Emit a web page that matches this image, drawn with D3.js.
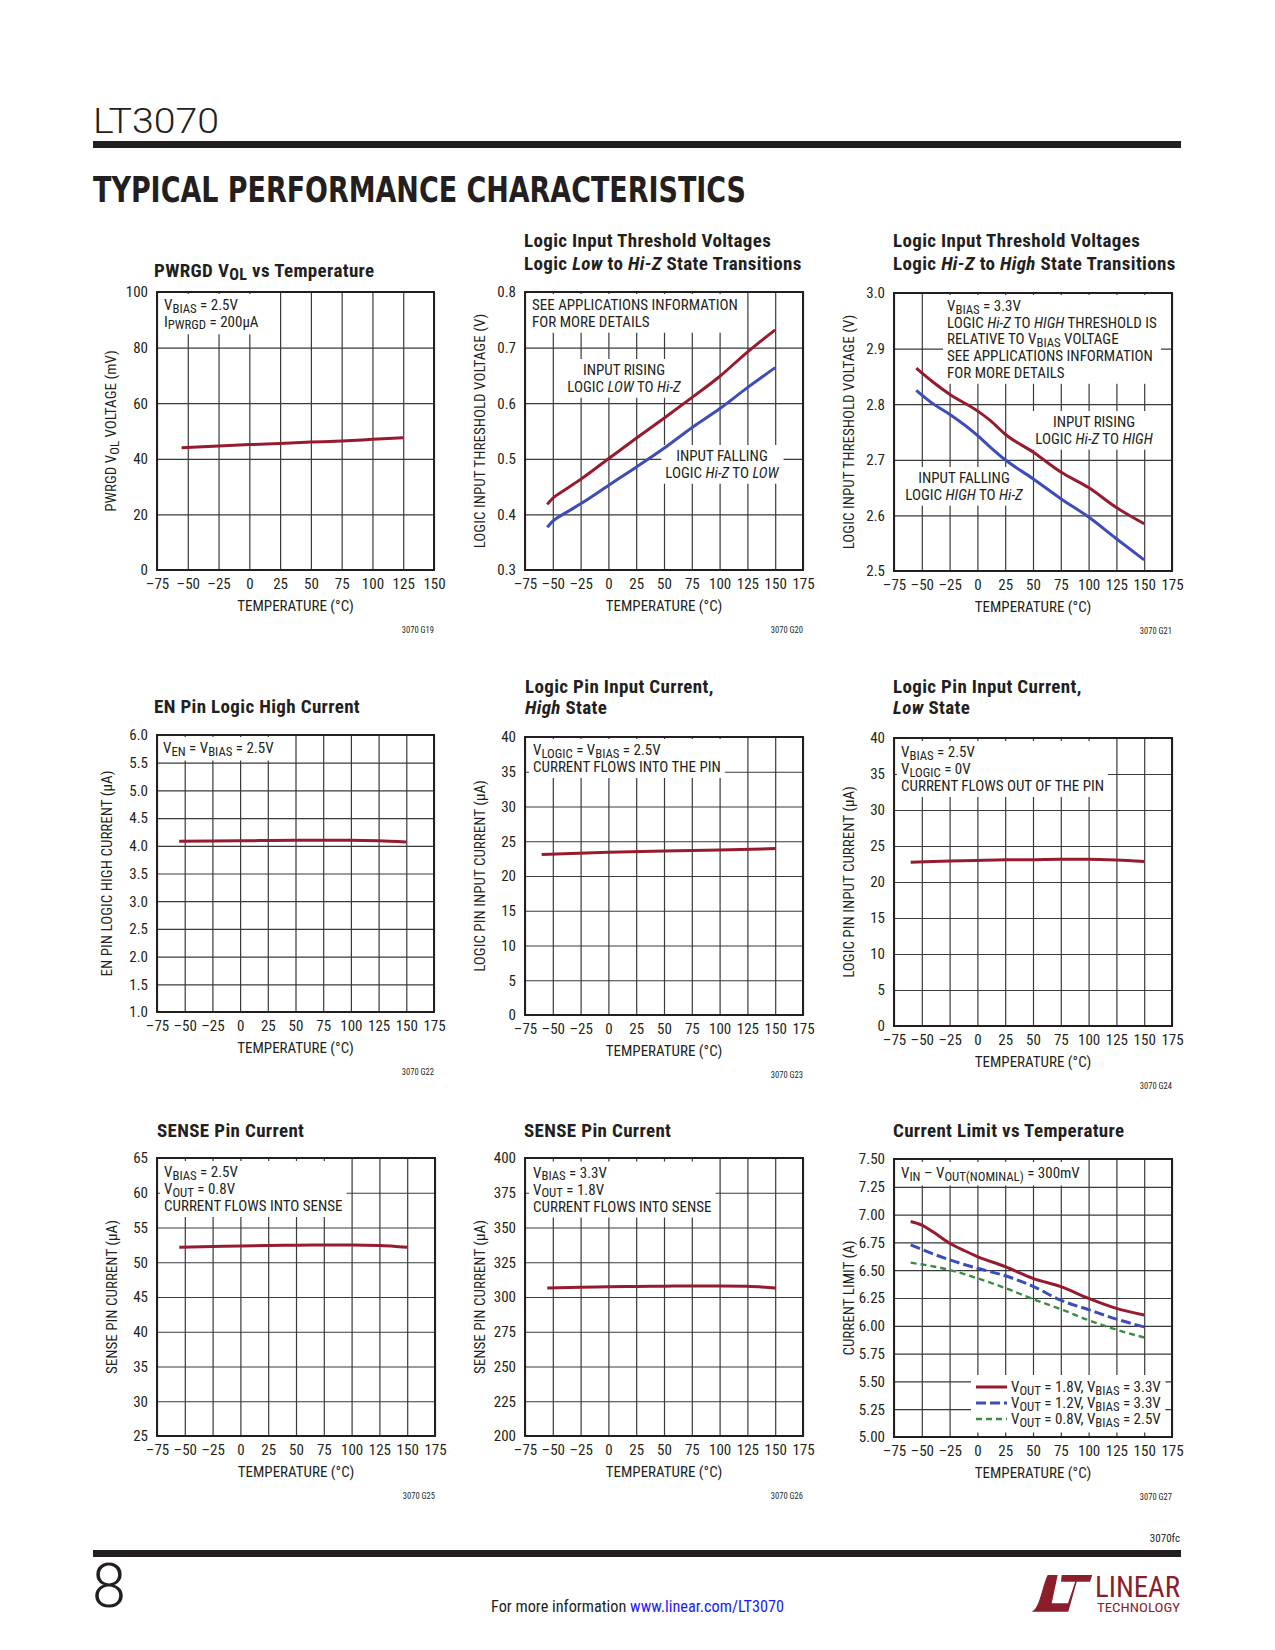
<!DOCTYPE html>
<html><head><meta charset="utf-8">
<script src="https://cdn.jsdelivr.net/npm/d3@7"></script>
<style>
body{margin:0;background:#fff}
svg{display:block}
text{white-space:pre}
</style></head><body>
<svg id="page" width="1275" height="1650"></svg>
<script>
// ================= DATA =================
const xTicksG19 = [-75,-50,-25,0,25,50,75,100,125,150];
const xTicksWide = [-75,-50,-25,0,25,50,75,100,125,150,175];

const g19Temp = [-55,-25,0,25,50,75,100,125];
const g19Vol  = [44.0,44.6,45.1,45.5,46.0,46.4,47.0,47.6];
const g19YTicks = [0,20,40,60,80,100];

const g20Temp    = [-55,-50,-40,-25,0,25,50,75,100,125,150];
const g20Rising  = [0.418,0.429,0.443,0.463,0.500,0.537,0.573,0.610,0.648,0.692,0.732];
const g20Falling = [0.377,0.388,0.401,0.419,0.452,0.485,0.519,0.556,0.590,0.628,0.664];
const g20YTicks  = [0.3,0.4,0.5,0.6,0.7,0.8];

const g21Temp    = [-55,-40,-25,0,12,25,50,75,100,125,150];
const g21Rising  = [2.865,2.840,2.818,2.788,2.770,2.746,2.714,2.678,2.650,2.614,2.585];
const g21Falling = [2.825,2.801,2.782,2.744,2.722,2.700,2.666,2.630,2.597,2.558,2.520];
const g21YTicks  = [2.5,2.6,2.7,2.8,2.9,3.0];

const g22Temp    = [-55,0,50,100,125,150];
const g22Current = [4.08,4.09,4.10,4.10,4.09,4.07];
const g22YTicks  = [1.0,1.5,2.0,2.5,3.0,3.5,4.0,4.5,5.0,5.5,6.0];

const g23Temp    = [-60,0,50,100,150];
const g23Current = [23.1,23.4,23.6,23.75,23.95];
const g23YTicks  = [0,5,10,15,20,25,30,35,40];

const g24Temp    = [-60,-25,0,25,50,75,100,125,150];
const g24Current = [22.75,22.9,23.0,23.08,23.1,23.15,23.15,23.05,22.85];
const g24YTicks  = [0,5,10,15,20,25,30,35,40];

const g25Temp    = [-55,-25,0,25,50,75,100,125,150];
const g25Current = [52.15,52.25,52.35,52.42,52.45,52.47,52.47,52.42,52.15];
const g25YTicks  = [25,30,35,40,45,50,55,60,65];

const g26Temp    = [-55,-25,0,25,50,75,100,125,150];
const g26Current = [306.5,307.0,307.3,307.6,307.8,308.0,308.0,307.7,306.4];
const g26YTicks  = [200,225,250,275,300,325,350,375,400];

const g27TempA   = [-60,-50,-40,-25,-12,0,25,50,75,100,125,150];
const g27Vout18  = [6.938,6.905,6.845,6.743,6.677,6.623,6.532,6.427,6.352,6.247,6.157,6.097];
const g27TempB   = [-60,-25,0,25,50,75,100,125,150];
const g27Vout12  = [6.728,6.593,6.517,6.450,6.355,6.230,6.145,6.060,5.990];
const g27Vout08  = [6.568,6.502,6.427,6.340,6.240,6.150,6.050,5.965,5.895];
const g27YTicks  = [5.00,5.25,5.50,5.75,6.00,6.25,6.50,6.75,7.00,7.25,7.50];

// ================= STYLE =================
const FONT = "'Liberation Sans Narrow','Arial Narrow','Roboto Condensed','DejaVu Sans Condensed',sans-serif";
const INK = '#231f20', GRID = '#3a3a3a';
const RED = '#961b2f', BLUE = '#3d4db7', GREEN = '#3a8d3f';
const fmtT = d => d < 0 ? '\u2013' + Math.abs(d) : String(d);
const TEMP_LABEL = 'TEMPERATURE (°C)';

const svg = d3.select('#page');

function addRich(textSel, str) {
  const parts = str.split(/(_\{[^}]*\}|\*[^*]*\*)/).filter(s => s.length);
  let shift = 0;
  parts.forEach(p => {
    const ts = textSel.append('tspan');
    if (p.startsWith('_{')) {
      ts.text(p.slice(2, -1)).attr('font-size', '0.85em').attr('dy', 2.5 - shift);
      shift = 2.5;
    } else {
      if (p.startsWith('*')) ts.text(p.slice(1, -1)).attr('font-style', 'italic');
      else ts.text(p);
      if (shift) { ts.attr('dy', -shift); shift = 0; }
    }
  });
  return textSel;
}

function drawChart(c) {
  const g = svg.append('g');
  const x = d3.scaleLinear().domain(c.xDomain).range([c.x, c.x + c.w]);
  const y = d3.scaleLinear().domain(c.yDomain).range([c.y + c.h, c.y]);

  const xa = g.append('g').attr('transform', `translate(0,${c.y + c.h})`)
    .call(d3.axisBottom(x).tickValues(c.xTicks).tickSize(-c.h).tickPadding(8.5).tickFormat(fmtT));
  const ya = g.append('g').attr('transform', `translate(${c.x},0)`)
    .call(d3.axisLeft(y).tickValues(c.yTicks).tickSize(-c.w).tickPadding(9).tickFormat(c.yFmt));
  [xa, ya].forEach(a => {
    a.select('.domain').remove();
    a.selectAll('line').attr('stroke', GRID).attr('stroke-width', 1.2);
    a.selectAll('text').attr('fill', INK).attr('font-size', 15).attr('font-family', FONT);
  });

  // title
  c.title.forEach((t, i) => {
    addRich(g.append('text').attr('x', c.titleX).attr('y', c.titleY[i])
      .attr('font-family', FONT).attr('font-weight', 'bold').attr('font-size', 19)
      .attr('letter-spacing', 0.35).attr('fill', INK), t);
  });

  // annotations with white boxes
  (c.notes || []).forEach(n => {
    const ng = g.append('g');
    n.lines.forEach((ln, i) => {
      addRich(ng.append('text').attr('x', n.x).attr('y', n.y + i * n.dy)
        .attr('text-anchor', n.anchor || 'start')
        .attr('font-family', FONT).attr('font-size', 15).attr('fill', INK), ln);
    });
    const bb = ng.node().getBBox();
    ng.insert('rect', ':first-child')
      .attr('x', bb.x - 4).attr('y', bb.y - 2).attr('width', bb.width + 8).attr('height', bb.height + 4)
      .attr('fill', '#fff');
  });

  // legend
  if (c.legend) {
    const L = c.legend;
    const lg = g.append('g');
    c.series.forEach((s, i) => {
      lg.append('line').attr('x1', L.x1).attr('x2', L.x2)
        .attr('y1', L.y + i * L.dy - 5).attr('y2', L.y + i * L.dy - 5)
        .attr('stroke', s.color).attr('stroke-width', s.width || 3)
        .attr('stroke-dasharray', s.dash || null);
      addRich(lg.append('text').attr('x', L.tx).attr('y', L.y + i * L.dy)
        .attr('font-family', FONT).attr('font-size', 15).attr('fill', INK), s.label);
    });
    const bb = lg.node().getBBox();
    lg.insert('rect', ':first-child')
      .attr('x', bb.x - 5).attr('y', bb.y - 3).attr('width', bb.width + 9).attr('height', bb.height + 6)
      .attr('fill', '#fff');
  }

  // data
  const line = d3.line().x(d => x(d[0])).y(d => y(d[1])).curve(d3.curveMonotoneX);
  c.series.forEach(s => {
    g.append('path').datum(d3.zip(s.t, s.v)).attr('d', line)
      .attr('fill', 'none').attr('stroke', s.color).attr('stroke-width', s.width || 3)
      .attr('stroke-dasharray', s.dash || null).attr('stroke-linejoin', 'round');
  });

  // border
  g.append('rect').attr('x', c.x).attr('y', c.y).attr('width', c.w).attr('height', c.h)
    .attr('fill', 'none').attr('stroke', INK).attr('stroke-width', 2);

  // axis titles
  g.append('text').attr('x', c.x + c.w / 2).attr('y', c.y + c.h + 41)
    .attr('text-anchor', 'middle').attr('font-family', FONT).attr('font-size', 15).attr('fill', INK)
    .text(TEMP_LABEL);
  addRich(g.append('text')
    .attr('transform', `translate(${c.x - c.ylOff},${c.y + c.h / 2}) rotate(-90)`)
    .attr('text-anchor', 'middle').attr('font-family', FONT).attr('font-size', 15).attr('fill', INK), c.ylabel);

  g.append('text').attr('x', c.x + c.w).attr('y', c.y + c.h + 63)
    .attr('text-anchor', 'end').attr('font-family', FONT).attr('font-size', 8.5).attr('fill', INK)
    .text(c.code);
}

const f1 = d => d.toFixed(1), f0 = d => String(d), f2 = d => d.toFixed(2);

const charts = [
  { x:157, y:292, w:277, h:278, xDomain:[-75,150], xTicks:xTicksG19, yDomain:[0,100], yTicks:g19YTicks, yFmt:f0,
    titleX:154, titleY:[277], title:['PWRGD V_{OL} vs Temperature'],
    ylabel:'PWRGD V_{OL} VOLTAGE (mV)', ylOff:41, code:'3070 G19',
    notes:[{x:164, y:310, dy:16.8, lines:['V_{BIAS} = 2.5V','I_{PWRGD} = 200µA']}],
    series:[{t:g19Temp, v:g19Vol, color:RED}] },
  { x:525, y:292, w:278, h:278, xDomain:[-75,175], xTicks:xTicksWide, yDomain:[0.3,0.8], yTicks:g20YTicks, yFmt:f1,
    titleX:524, titleY:[247,270], title:['Logic Input Threshold Voltages','Logic *Low* to *Hi-Z* State Transitions'],
    ylabel:'LOGIC INPUT THRESHOLD VOLTAGE (V)', ylOff:40, code:'3070 G20',
    notes:[{x:532, y:310, dy:16.7, lines:['SEE APPLICATIONS INFORMATION','FOR MORE DETAILS']},
           {x:624, y:375, dy:16.7, anchor:'middle', lines:['INPUT RISING','LOGIC *LOW* TO *Hi-Z*']},
           {x:722, y:461, dy:16.7, anchor:'middle', lines:['INPUT FALLING','LOGIC *Hi-Z* TO *LOW*']}],
    series:[{t:g20Temp, v:g20Rising, color:RED},{t:g20Temp, v:g20Falling, color:BLUE}] },
  { x:894, y:293, w:278, h:278, xDomain:[-75,175], xTicks:xTicksWide, yDomain:[2.5,3.0], yTicks:g21YTicks, yFmt:f1,
    titleX:893, titleY:[247,270], title:['Logic Input Threshold Voltages','Logic *Hi-Z* to *High* State Transitions'],
    ylabel:'LOGIC INPUT THRESHOLD VOLTAGE (V)', ylOff:40, code:'3070 G21',
    notes:[{x:947, y:311, dy:16.7, lines:['V_{BIAS} = 3.3V','LOGIC *Hi-Z* TO *HIGH* THRESHOLD IS','RELATIVE TO V_{BIAS} VOLTAGE','SEE APPLICATIONS INFORMATION','FOR MORE DETAILS']},
           {x:1094, y:427, dy:16.7, anchor:'middle', lines:['INPUT RISING','LOGIC *Hi-Z* TO *HIGH*']},
           {x:964, y:483, dy:16.7, anchor:'middle', lines:['INPUT FALLING','LOGIC *HIGH* TO *Hi-Z*']}],
    series:[{t:g21Temp, v:g21Rising, color:RED},{t:g21Temp, v:g21Falling, color:BLUE}] },
  { x:157, y:735, w:277, h:277, xDomain:[-75,175], xTicks:xTicksWide, yDomain:[1,6], yTicks:g22YTicks, yFmt:f1,
    titleX:154, titleY:[713], title:['EN Pin Logic High Current'],
    ylabel:'EN PIN LOGIC HIGH CURRENT (µA)', ylOff:45, code:'3070 G22',
    notes:[{x:163, y:753, dy:16.7, lines:['V_{EN} = V_{BIAS} = 2.5V']}],
    series:[{t:g22Temp, v:g22Current, color:RED}] },
  { x:525, y:737, w:278, h:278, xDomain:[-75,175], xTicks:xTicksWide, yDomain:[0,40], yTicks:g23YTicks, yFmt:f0,
    titleX:525, titleY:[693,714], title:['Logic Pin Input Current,','*High* State'],
    ylabel:'LOGIC PIN INPUT CURRENT (µA)', ylOff:40, code:'3070 G23',
    notes:[{x:533, y:755, dy:17, lines:['V_{LOGIC} = V_{BIAS} = 2.5V','CURRENT FLOWS INTO THE PIN']}],
    series:[{t:g23Temp, v:g23Current, color:RED}] },
  { x:894, y:738, w:278, h:288, xDomain:[-75,175], xTicks:xTicksWide, yDomain:[0,40], yTicks:g24YTicks, yFmt:f0,
    titleX:893, titleY:[693,714], title:['Logic Pin Input Current,','*Low* State'],
    ylabel:'LOGIC PIN INPUT CURRENT (µA)', ylOff:40, code:'3070 G24',
    notes:[{x:901, y:757, dy:17, lines:['V_{BIAS} = 2.5V','V_{LOGIC} = 0V','CURRENT FLOWS OUT OF THE PIN']}],
    series:[{t:g24Temp, v:g24Current, color:RED}] },
  { x:157, y:1158, w:278, h:278, xDomain:[-75,175], xTicks:xTicksWide, yDomain:[25,65], yTicks:g25YTicks, yFmt:f0,
    titleX:157, titleY:[1137], title:['SENSE Pin Current'],
    ylabel:'SENSE PIN CURRENT (µA)', ylOff:40, code:'3070 G25',
    notes:[{x:164, y:1177, dy:17, lines:['V_{BIAS} = 2.5V','V_{OUT} = 0.8V','CURRENT FLOWS INTO SENSE']}],
    series:[{t:g25Temp, v:g25Current, color:RED}] },
  { x:525, y:1158, w:278, h:278, xDomain:[-75,175], xTicks:xTicksWide, yDomain:[200,400], yTicks:g26YTicks, yFmt:f0,
    titleX:524, titleY:[1137], title:['SENSE Pin Current'],
    ylabel:'SENSE PIN CURRENT (µA)', ylOff:40, code:'3070 G26',
    notes:[{x:533, y:1177.5, dy:17, lines:['V_{BIAS} = 3.3V','V_{OUT} = 1.8V','CURRENT FLOWS INTO SENSE']}],
    series:[{t:g26Temp, v:g26Current, color:RED}] },
  { x:894, y:1159, w:278, h:278, xDomain:[-75,175], xTicks:xTicksWide, yDomain:[5,7.5], yTicks:g27YTicks, yFmt:f2,
    titleX:893, titleY:[1137], title:['Current Limit vs Temperature'],
    ylabel:'CURRENT LIMIT (A)', ylOff:40, code:'3070 G27',
    notes:[{x:901, y:1178, dy:16, lines:['V_{IN} \u2013 V_{OUT(NOMINAL)} = 300mV']}],
    legend:{x1:976, x2:1007, tx:1011, y:1392, dy:16},
    series:[{t:g27TempA, v:g27Vout18, color:RED, label:'V_{OUT} = 1.8V, V_{BIAS} = 3.3V'},
            {t:g27TempB, v:g27Vout12, color:BLUE, dash:'10,4', label:'V_{OUT} = 1.2V, V_{BIAS} = 3.3V'},
            {t:g27TempB, v:g27Vout08, color:GREEN, dash:'6,4', width:2.4, label:'V_{OUT} = 0.8V, V_{BIAS} = 2.5V'}] }
];

// ================= PAGE =================
svg.append('text').attr('x', 93).attr('y', 133).attr('font-family', 'Roboto').attr('font-weight', 300)
  .attr('font-size', 35).attr('fill', INK).attr('textLength', 126).attr('lengthAdjust', 'spacingAndGlyphs').text('LT3070');
svg.append('rect').attr('x', 93).attr('y', 141).attr('width', 1088).attr('height', 7).attr('fill', INK);
svg.append('text').attr('x', 93).attr('y', 202).attr('font-family', "'DejaVu Sans Condensed','Liberation Sans Narrow',sans-serif")
  .attr('font-weight', 'bold').attr('font-size', 36).attr('fill', INK)
  .attr('textLength', 653).attr('lengthAdjust', 'spacingAndGlyphs').text('TYPICAL PERFORMANCE CHARACTERISTICS');

charts.forEach(drawChart);

// footer
svg.append('text').attr('x', 1180).attr('y', 1542).attr('text-anchor', 'end').attr('font-family', FONT)
  .attr('font-size', 11).attr('fill', INK).text('3070fc');
svg.append('rect').attr('x', 93).attr('y', 1550).attr('width', 1088).attr('height', 7).attr('fill', INK);
svg.append('text').attr('x', 92).attr('y', 1607).attr('font-family', 'Roboto').attr('font-weight', 300)
  .attr('font-size', 61).attr('fill', INK).text('8');
const ft = svg.append('text').attr('x', 491).attr('y', 1612).attr('font-family', FONT).attr('font-size', 17)
  .attr('fill', INK).attr('textLength', 293).attr('lengthAdjust', 'spacingAndGlyphs');
ft.append('tspan').text('For more information ');
ft.append('tspan').attr('fill', '#1a1aff').text('www.linear.com/LT3070');

// logo
const LOGO = '#8c1d2b';
const lg = svg.append('g');
lg.append('path').attr('fill', LOGO)
  .attr('d', 'M1031.7,1611.7 C1040,1608.3 1042.3,1585 1047.7,1575 L1092.3,1575 L1090,1581.7 L1076.7,1581.7 L1068.3,1611.7 Z');
lg.append('path').attr('fill', '#fff')
  .attr('d', 'M1057.7,1575 L1061.7,1575 L1061,1581.7 L1075.2,1581.7 L1068,1603.3 L1051.7,1603.3 Z');
svg.append('text').attr('x', 1095).attr('y', 1597).attr('font-family', FONT)
  .attr('font-size', 30).attr('fill', LOGO).attr('textLength', 85).attr('lengthAdjust', 'spacingAndGlyphs').text('LINEAR');
svg.append('text').attr('x', 1097).attr('y', 1612).attr('font-family', FONT)
  .attr('font-size', 12).attr('fill', LOGO).attr('textLength', 83).attr('lengthAdjust', 'spacingAndGlyphs').text('TECHNOLOGY');
</script>
</body></html>
